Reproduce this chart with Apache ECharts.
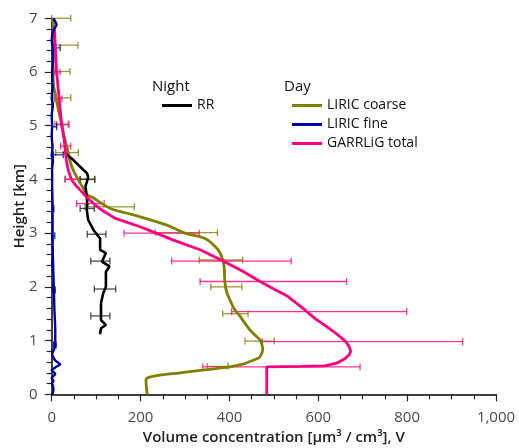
<!DOCTYPE html>
<html>
<head>
<meta charset="utf-8">
<script src="https://cdn.jsdelivr.net/npm/echarts@6/dist/echarts.min.js"></script>
<style>
  html, body { margin: 0; padding: 0; background: #fff; }
  #chart { width: 519px; height: 448px; }
</style>
</head>
<body>
<div id="chart"></div>
<script>
// Volume concentration profiles: [V (µm³/cm³), height (km)]
const rrNight = [
  [30,4.49],[49,4.36],[71,4.18],[79,4.12],[82,4.05],[79,3.95],[76,3.87],[79,3.68],[80,3.55],[79,3.43],
  [82,3.25],[94,3.06],[109,2.90],[109,2.69],[122,2.63],[113,2.47],[130,2.38],[122,2.28],[122,2.00],
  [116,1.88],[111,1.70],[111,1.51],[111,1.38],[122,1.29],[111,1.23],[109,1.14],[109,1.12]
];
const liricCoarse = [
  [215,0],[213,0.15],[212,0.27],[225,0.33],[289,0.40],[350,0.46],[401,0.51],[430,0.56],[446,0.61],
  [462,0.66],[469,0.70],[475,0.83],[473,0.93],[469,1.01],[458,1.10],[446,1.20],[424,1.45],[410,1.60],
  [401,1.76],[394,1.90],[390,2.07],[388,2.38],[385,2.50],[379,2.63],[368,2.75],[345,2.90],[300,3.00],
  [259,3.15],[184,3.34],[135,3.45],[109,3.57],[95,3.65],[79,3.72],[70,3.85],[60,3.99],[48,4.18],
  [41,4.35],[34,4.61],[28,4.80],[22,5.05],[15,5.30],[8,5.60],[4,5.75],[3,6.10],[4,6.50],[4,6.97]
];
const liricFine = [
  [2,0],[4,0.10],[1,0.21],[4,0.25],[0,0.30],[8,0.38],[0,0.45],[8,0.50],[19,0.56],[8,0.63],[1,0.75],
  [6,0.85],[8,0.92],[8,1.20],[6,1.60],[5,1.94],[3,2.44],[2,2.95],[2,3.50],[1,3.90],[1,4.20],[3,4.35],
  [0,4.45],[2,4.60],[0,4.80],[1,5.00],[0,5.20],[3,5.40],[0,5.50],[2,5.70],[1,6.00],[3,6.20],[2,6.45],
  [0,6.60],[4,6.78],[11,6.88],[4,7.00]
];
const garrligTotal = [
  [484,0],[484,0.51],[560,0.52],[615,0.53],[641,0.58],[660,0.66],[670,0.74],[673,0.80],[670,0.88],
  [662,0.98],[645,1.10],[619,1.26],[593,1.41],[570,1.57],[532,1.82],[500,1.96],[469,2.10],[430,2.29],
  [386,2.48],[334,2.69],[274,2.87],[235,3.00],[199,3.12],[142,3.28],[109,3.45],[85,3.62],[71,3.74],
  [55,3.88],[45,3.99],[38,4.15],[34,4.30],[31,4.50],[28,4.75],[22,5.05],[17,5.48],[11,6.01],[8,6.50],[6,6.85]
];

// Horizontal error bars: [height (km), low V, high V]
const rrErr = [[4.00,64,97],[3.46,64,96],[2.98,80,122],[2.48,88,131],[1.96,96,144],[1.46,88,131]];
const coarseErr = [
  [7.00,0,43],[6.50,0,59],[6.01,0,41],[5.52,3,43],[5.03,7,37],[4.50,9,60],[4.01,30,97],[3.49,75,186],
  [3.01,233,373],[2.50,332,430],[2.00,358,428],[1.50,385,442],[0.99,435,501],[0.52,350,397]
];
const fineErr = [[6.45,4,19],[4.98,0,11],[4.46,4,26],[3.45,1,5],[2.95,0,7],[2.44,0,4],[1.94,2,8],[0.92,4,10]];
const garrligErr = [
  [6.00,7,19],[5.50,7,23],[5.02,11,39],[4.62,20,43],[4.00,30,64],[3.55,56,118],[3.00,163,332],
  [2.48,270,539],[2.10,334,664],[1.54,405,799],[0.98,474,925],[0.51,340,694]
];

const xTicks = { min: 0, max: 1000, interval: 200 };
const yTicks = { min: 0, max: 7, interval: 1 };

const COLORS = { rr: '#000000', coarse: '#808000', fine: '#0000a8', total: '#ff0080' };
const FONT = '"Open Sans", "DejaVu Sans", sans-serif';

function errorSeries(name, data, color) {
  return {
    type: 'custom',
    name: name,
    data: data,
    z: 2,
    clip: false,
    encode: { x: [1, 2], y: 0 },
    renderItem: function (params, api) {
      const h = api.value(0);
      const a = api.coord([api.value(1), h]);
      const b = api.coord([api.value(2), h]);
      const cap = 3.5;
      const style = { stroke: color, lineWidth: 1.3, opacity: 0.8 };
      return {
        type: 'group',
        children: [
          { type: 'line', shape: { x1: a[0], y1: a[1], x2: b[0], y2: b[1] }, style: style },
          { type: 'line', shape: { x1: a[0], y1: a[1] - cap, x2: a[0], y2: a[1] + cap }, style: style },
          { type: 'line', shape: { x1: b[0], y1: b[1] - cap, x2: b[0], y2: b[1] + cap }, style: style }
        ]
      };
    }
  };
}

function lineSeries(name, data, color, width, z, smooth) {
  return {
    type: 'line',
    name: name,
    data: data,
    showSymbol: false,
    symbol: 'none',
    clip: false,
    smooth: smooth,
    z: z,
    lineStyle: { color: color, width: width },
    itemStyle: { color: color }
  };
}

const chart = echarts.init(document.getElementById('chart'), null, { renderer: 'canvas' });

chart.setOption({
  animation: false,
  backgroundColor: '#ffffff',
  textStyle: { fontFamily: FONT },
  grid: { left: 51.7, right: 23, top: 18.3, bottom: 53.7, outerBoundsMode: 'none', containLabel: false },
  xAxis: {
    type: 'value',
    min: xTicks.min, max: xTicks.max, interval: xTicks.interval,
    name: 'Volume concentration [μm³ / cm³], V',
    nameLocation: 'middle',
    nameGap: 36,
    nameMoveOverlap: false,
    nameTextStyle: { fontSize: 15, fontWeight: 600, color: '#222', fontFamily: FONT },
    axisLine: { onZero: false, lineStyle: { color: '#000', width: 1.5 } },
    axisTick: { show: true, length: 7, lineStyle: { color: '#222', width: 1.2 } },
    minorTick: { show: true, splitNumber: 4, length: 5, lineStyle: { color: '#222', width: 1.2 } },
    splitLine: { show: false },
    axisLabel: {
      margin: 16, fontSize: 15, color: '#4a4a4a', fontFamily: FONT,
      formatter: function (v) { return v.toLocaleString('en-US'); }
    }
  },
  yAxis: {
    type: 'value',
    min: yTicks.min, max: yTicks.max, interval: yTicks.interval,
    name: 'Height [km]',
    nameLocation: 'middle',
    nameGap: 24,
    nameRotate: 90,
    nameMoveOverlap: false,
    nameTextStyle: { fontSize: 15, fontWeight: 600, color: '#222', fontFamily: FONT },
    axisLine: { onZero: false, lineStyle: { color: '#000', width: 1.5 } },
    axisTick: { show: true, length: 7, lineStyle: { color: '#222', width: 1.2 } },
    minorTick: { show: true, splitNumber: 5, length: 5, lineStyle: { color: '#222', width: 1.2 } },
    splitLine: { show: false },
    axisLabel: { margin: 14, fontSize: 15, color: '#4a4a4a', fontFamily: FONT }
  },
  legend: [
    {
      data: ['RR'],
      orient: 'vertical',
      left: 157, top: 91,
      icon: 'rect', itemWidth: 30, itemHeight: 3, itemGap: 0,
      textStyle: { fontSize: 14, fontWeight: 500, color: '#111', lineHeight: 19, fontFamily: FONT }
    },
    {
      data: ['LIRIC coarse', 'LIRIC fine', 'GARRLiG total'],
      orient: 'vertical',
      left: 287, top: 91,
      icon: 'rect', itemWidth: 30, itemHeight: 3, itemGap: 0,
      textStyle: { fontSize: 14, fontWeight: 500, color: '#111', lineHeight: 19, fontFamily: FONT }
    }
  ],
  graphic: [
    { type: 'text', left: 152, top: 79, style: { text: 'Night', font: '500 15px ' + FONT, fill: '#111' } },
    { type: 'text', left: 284, top: 79, style: { text: 'Day', font: '500 15px ' + FONT, fill: '#111' } }
  ],
  series: [
    errorSeries('LIRIC coarse error', coarseErr, COLORS.coarse),
    errorSeries('GARRLiG total error', garrligErr, COLORS.total),
    errorSeries('RR error', rrErr, '#222'),
    errorSeries('LIRIC fine error', fineErr, COLORS.fine),
    lineSeries('LIRIC coarse', liricCoarse, COLORS.coarse, 2.8, 3, 0.3),
    lineSeries('RR', rrNight, COLORS.rr, 2.6, 4, false),
    lineSeries('GARRLiG total', garrligTotal, COLORS.total, 2.8, 5, false),
    lineSeries('LIRIC fine', liricFine, COLORS.fine, 2.4, 6, 0.2)
  ]
});
</script>
</body>
</html>
